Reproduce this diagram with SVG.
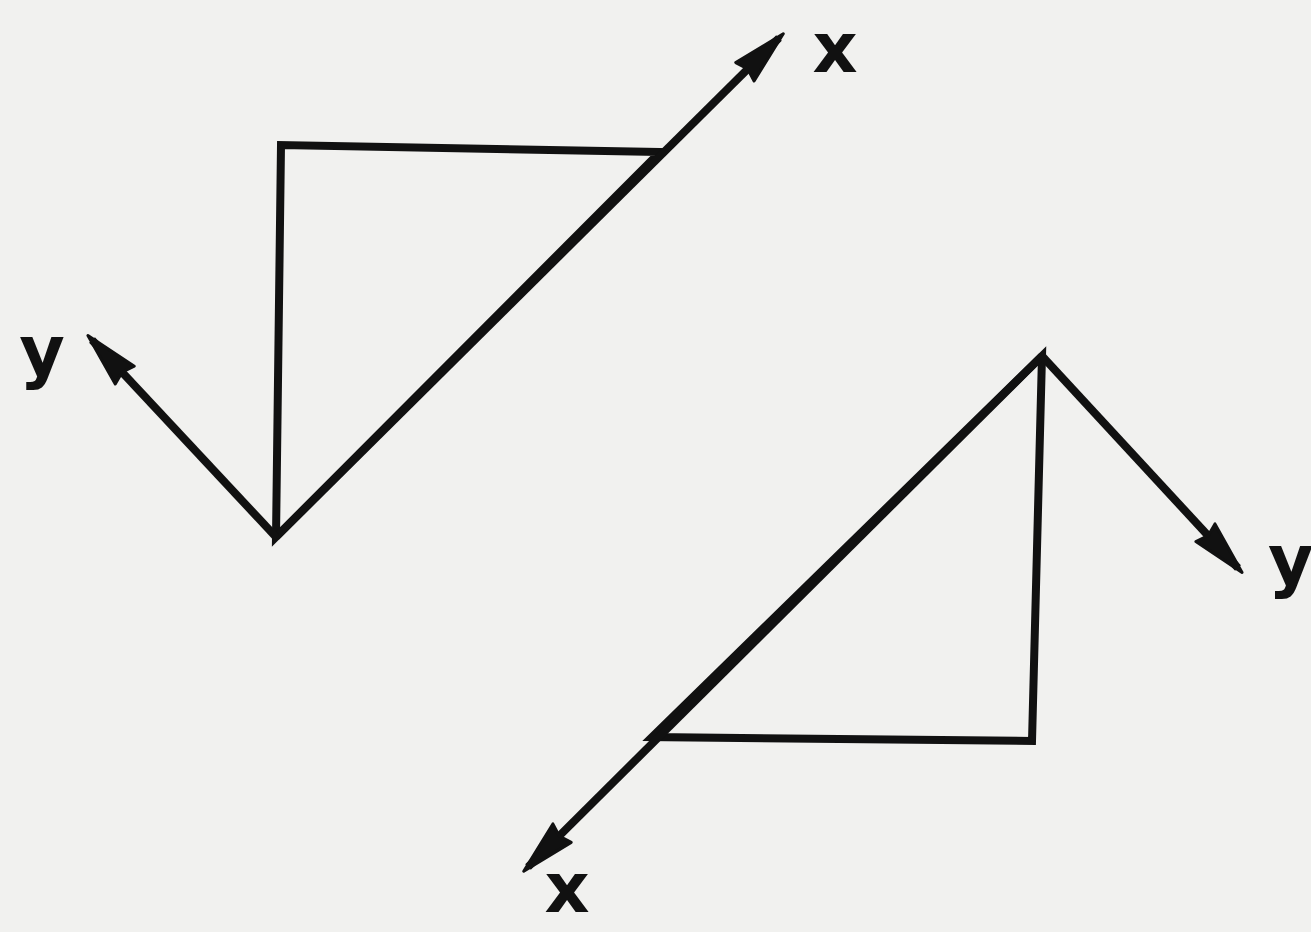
<svg xmlns="http://www.w3.org/2000/svg" width="1311" height="932" viewBox="0 0 1311 932">
<style>
.ln{fill:none;stroke:#111;stroke-width:8;stroke-linejoin:miter}
.cn{fill:none;stroke:#111;stroke-width:8;stroke-linecap:butt}
.lb{font-family:"DejaVu Sans","Liberation Sans",Arial,sans-serif;font-weight:bold;font-size:70px;fill:#111}
</style>
<defs>
<marker id="ah" markerUnits="userSpaceOnUse" viewBox="-60 -18 70 36" markerWidth="70" markerHeight="36" refX="0" refY="0" orient="auto">
<path d="M6,0 L-48,-13 L-44,0 L-48,13 Z" fill="#111" stroke="#111" stroke-width="3" stroke-linejoin="round"/>
</marker>
</defs>
<rect width="1311" height="932" fill="#f1f1ef"/>
<g id="triangle-top">
<path class="ln" d="M660,152 L281,145 L276,537 Z"/>
</g>
<g id="triangle-bottom">
<path class="ln" d="M1042,356 L1032,741 L652,737 Z"/>
</g>
<g id="connectors">
<line class="cn" x1="276" y1="537" x2="779" y2="38" marker-end="url(#ah)"/>
<line class="cn" x1="276" y1="537" x2="92" y2="340" marker-end="url(#ah)"/>
<line class="cn" x1="1042" y1="356" x2="528" y2="867" marker-end="url(#ah)"/>
<line class="cn" x1="1042" y1="356" x2="1238" y2="568" marker-end="url(#ah)"/>
</g>
<g id="labels">
<text class="lb" x="835" y="72" text-anchor="middle">x</text>
<text class="lb" x="42" y="375" text-anchor="middle">y</text>
<text class="lb" x="1268" y="584">y</text>
<text class="lb" x="567" y="912" text-anchor="middle">x</text>
</g>
</svg>
